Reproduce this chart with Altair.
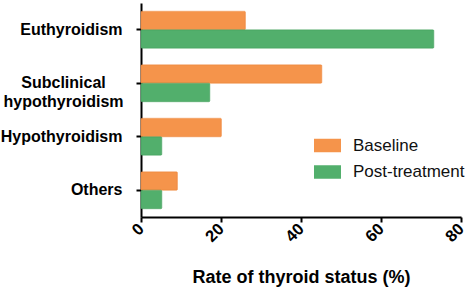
import altair as alt
import pandas as pd

categories = ["Euthyroidism", "Subclinical hypothyroidism", "Hypothyroidism", "Others"]
groups = ["Baseline", "Post-treatment"]
baseline = [26.1, 45.2, 20.1, 9.1]
post = [73.2, 17.2, 5.2, 5.2]
x_ticks = [0, 20, 40, 60, 80]
colors = ["#F5944B", "#52AF6C"]

rows = []
for c, b, p in zip(categories, baseline, post):
    rows.append({"status": c, "group": groups[0], "rate": b})
    rows.append({"status": c, "group": groups[1], "rate": p})
df = pd.DataFrame(rows)

FONT = "Liberation Sans"
SUB = "datum.value == 'Subclinical hypothyroidism'"

chart = alt.Chart(df).mark_bar(cornerRadius=1, strokeWidth=0.6).encode(
    y=alt.Y(
        "status:N",
        sort=categories,
        scale=alt.Scale(paddingInner=0.31, paddingOuter=0.155),
        axis=alt.Axis(
            title=None,
            labelFont=FONT,
            labelFontSize=16,
            labelFontWeight="bold",
            labelColor="black",
            labelLineHeight=19,
            labelExpr="datum.value == 'Subclinical hypothyroidism' ? ['Subclinical', 'hypothyroidism'] : datum.label",
            labelAlign={"condition": {"test": SUB, "value": "center"}, "value": "right"},
            labelPadding={"condition": {"test": SUB, "value": 73}, "value": 14},
            labelBaseline="middle",
            labelLimit=300,
            domainColor="black",
            domainWidth=2,
            tickColor="black",
            tickWidth=2,
            tickSize=5,
        ),
    ),
    yOffset=alt.YOffset("group:N", sort=groups, scale=alt.Scale(paddingInner=0, paddingOuter=0)),
    x=alt.X(
        "rate:Q",
        scale=alt.Scale(domain=[0, 80], nice=False),
        axis=alt.Axis(
            title="Rate of thyroid status (%)",
            values=x_ticks,
            grid=False,
            labelAngle=315,
            labelAlign="right",
            labelBaseline="middle",
            labelFont=FONT,
            labelFontSize=16.5,
            labelFontWeight="bold",
            labelColor="black",
            labelPadding=4,
            labelFlush=False,
            labelOverlap=False,
            titleFont=FONT,
            titleFontSize=18,
            titleFontWeight="bold",
            titleColor="black",
            titleBaseline="alphabetic",
            titleY=65,
            domainColor="black",
            domainWidth=2,
            tickColor="black",
            tickWidth=2,
            tickSize=5,
        ),
    ),
    color=alt.Color(
        "group:N",
        sort=groups,
        scale=alt.Scale(domain=groups, range=colors),
        legend=alt.Legend(
            title=None,
            orient="none",
            legendX=173,
            legendY=129,
            padding=0,
            symbolType="M-1,-0.5H1V0.5H-1Z",
            symbolSize=729,
            symbolStrokeWidth=0,
            symbolOpacity=1,
            labelFont=FONT,
            labelFontSize=17,
            labelColor="#111111",
            labelOffset=12,
            rowPadding=4.5,
        ),
    ),
    stroke=alt.Stroke("group:N", sort=groups,
                      scale=alt.Scale(domain=groups, range=["#F08A3E", "#48A562"]),
                      legend=None),
).properties(
    width=320,
    height=214,
    autosize=alt.AutoSizeParams(type="none"),
    padding={"left": 141, "top": 3, "right": 5, "bottom": 73},
).configure_view(stroke=None)

chart.save("out.html", embed_options={"renderer": "svg", "actions": False})
